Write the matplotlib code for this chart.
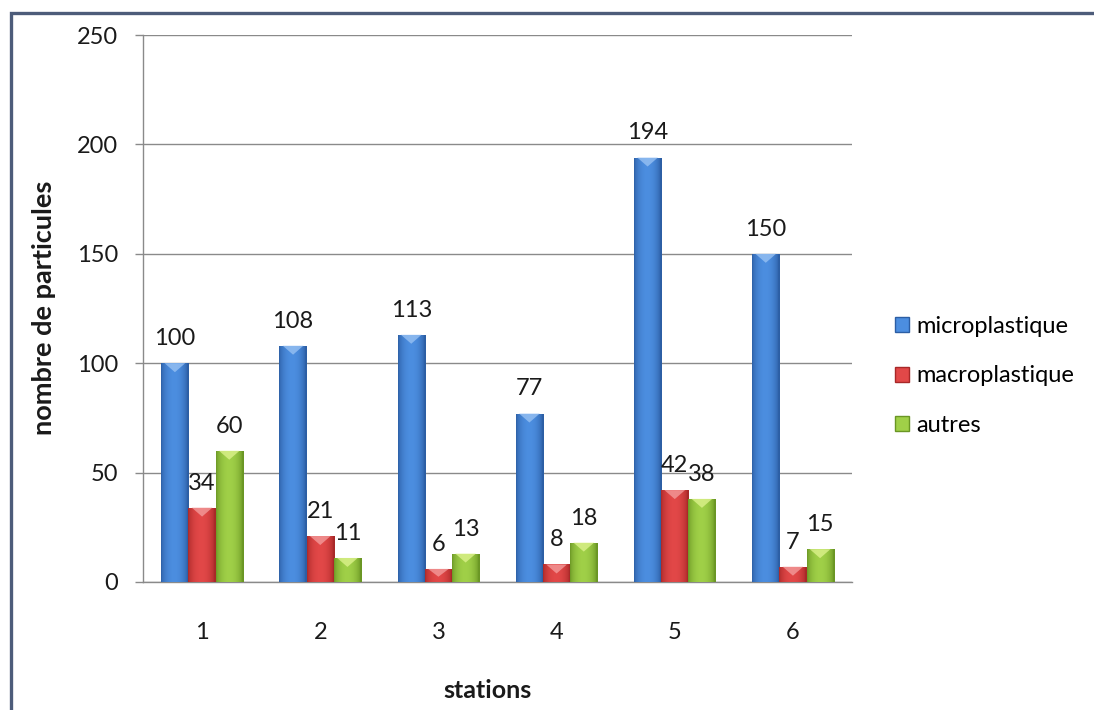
import numpy as np
import matplotlib
matplotlib.use("Agg")
import matplotlib.pyplot as plt
from matplotlib.patches import Rectangle, Polygon, Patch
from matplotlib.colors import to_rgb

# --- data -------------------------------------------------------------
stations = ["1", "2", "3", "4", "5", "6"]
microplastique = [100, 108, 113, 77, 194, 150]
macroplastique = [34, 21, 6, 8, 42, 7]
autres = [60, 11, 13, 18, 38, 15]
series_names = ["microplastique", "macroplastique", "autres"]
y_ticks = [0, 50, 100, 150, 200, 250]

# edge / centre / cap tint per series
palette = [
    ("#2c5ea4", "#4c8ee0", "#9cc4f4"),
    ("#a82828", "#e24848", "#f4a0a0"),
    ("#6a9624", "#a0d048", "#e0f490"),
]

plt.rcParams["font.family"] = ["Lato", "DejaVu Sans"]

W, H = 1094, 710
fig = plt.figure(figsize=(W / 100, H / 100), dpi=100)
fig.patch.set_facecolor("white")

ax = fig.add_axes([143 / W, 1 - 582 / H, (852 - 143) / W, (582 - 35) / H])
ax.set_facecolor("white")

x = np.arange(len(stations))
bw = 0.23
offsets = [-bw, 0.0, bw]
ymax = 250
px_to_data = ymax / (582 - 35)
FS = 17


def shade_bar(rect, edge, centre, cap):
    """Fill a bar with a cylindrical horizontal gradient and a light top chevron."""
    x0, w, h = rect.get_x(), rect.get_width(), rect.get_height()
    t = np.linspace(0, 1, 64)
    prof = np.sin(np.pi * np.clip(t * 1.05, 0, 1)) ** 0.6
    e, c = np.array(to_rgb(edge)), np.array(to_rgb(centre))
    img = (e[None, :] * (1 - prof[:, None]) + c[None, :] * prof[:, None])[None, :, :]
    im = ax.imshow(img, extent=[x0, x0 + w, 0, h], aspect="auto",
                   origin="lower", zorder=3, interpolation="bilinear")
    im.set_clip_path(rect)
    dh = min(9 * px_to_data, h * 0.6)
    chev = Polygon([(x0 + w * 0.12, h), (x0 + w * 0.88, h),
                    (x0 + w * 0.5, h - dh)], closed=True,
                   facecolor=cap, edgecolor="none", alpha=0.75, zorder=4)
    ax.add_patch(chev)


for i, (vals, name) in enumerate(zip([microplastique, macroplastique, autres], series_names)):
    edge, centre, cap = palette[i]
    bars = ax.bar(x + offsets[i], vals, width=bw, color=centre,
                  edgecolor="none", zorder=2, label=name)
    for rect, v in zip(bars, vals):
        shade_bar(rect, edge, centre, cap)
        ax.annotate(f"{v}", (rect.get_x() + rect.get_width() / 2, v),
                    xytext=(0, 13), textcoords="offset points",
                    ha="center", va="baseline", fontsize=FS, color="#1a1a1a",
                    zorder=6)

ax.set_xlim(-0.5, len(stations) - 0.5)
ax.set_ylim(0, ymax)
ax.set_yticks(y_ticks)
ax.set_xticks(x)
ax.set_xticklabels(stations)
ax.yaxis.grid(True, color="#8a8a8a", linewidth=1.0, zorder=0)
ax.set_axisbelow(True)

for s in ["top", "right"]:
    ax.spines[s].set_visible(False)
ax.spines["left"].set_color("#8a8a8a")
ax.spines["bottom"].set_color("#8a8a8a")
ax.spines["left"].set_linewidth(1.0)
ax.spines["bottom"].set_linewidth(1.0)

ax.tick_params(axis="y", length=6, width=1.0, color="#8a8a8a",
               pad=12, labelsize=FS, labelcolor="#1a1a1a")
ax.tick_params(axis="x", length=0, pad=29, labelsize=FS, labelcolor="#1a1a1a")

fig.text(487 / W, 1 - 690 / H, "stations", ha="center", va="center",
         fontsize=18, fontweight="bold", color="#1a1a1a")
fig.text(44 / W, 1 - 308 / H, "nombre de particules", ha="center", va="center",
         rotation=90, fontsize=19.5, fontweight="bold", color="#1a1a1a")

handles = [Patch(facecolor=palette[i][1], edgecolor=palette[i][0], linewidth=1.0)
           for i in range(3)]
fig.legend(handles, series_names, loc="center left",
           bbox_to_anchor=(895 / W, 1 - 376 / H), frameon=False,
           fontsize=17, handlelength=0.6, handleheight=0.6,
           handletextpad=0.3, labelspacing=1.2, borderpad=0,
           borderaxespad=0)

# outer chart frame
fig.patches.append(Rectangle((11 / W, -0.05), 1.2, 1 - 13 / H + 0.05,
                             transform=fig.transFigure, fill=False,
                             edgecolor="#4d5c7a", linewidth=2.4,
                             clip_on=False, zorder=10))

fig.savefig("out.png", dpi=100, facecolor="white")
